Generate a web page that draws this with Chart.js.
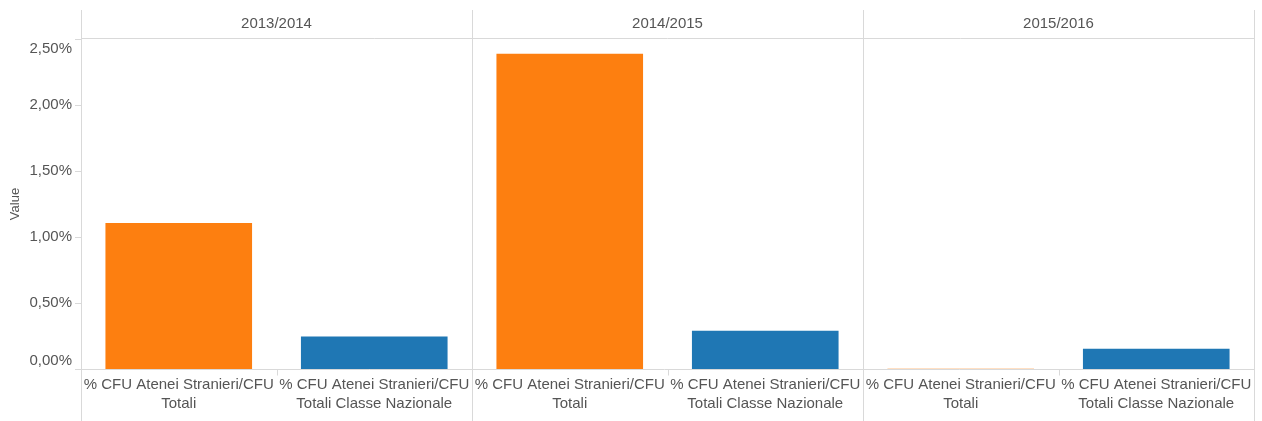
<!DOCTYPE html>
<html>
<head>
<meta charset="utf-8">
<script src="https://cdn.jsdelivr.net/npm/chart.js@4.4.0/dist/chart.umd.min.js"></script>
<style>
  html, body { margin: 0; padding: 0; background: #fff; }
  #wrap { width: 1262px; height: 421px; }
</style>
</head>
<body>
<div id="wrap"><canvas id="cfuChart"></canvas></div>
<script>
// --- dati ---
const anni = ['2013/2014', '2014/2015', '2015/2016'];
const misure = [
    ['% CFU Atenei Stranieri/CFU', 'Totali'],
    ['% CFU Atenei Stranieri/CFU', 'Totali Classe Nazionale']
];
const cfuTotali = [1.106, 2.389, 0.002];
const cfuClasseNazionale = [0.247, 0.290, 0.154];
const yTicks = [0, 0.5, 1, 1.5, 2, 2.5];
const coloriMisure = ['#fd7f10', '#1f77b4'];

const FONT = '"Liberation Sans", Arial, sans-serif';
const GRIGIO = '#d9d9d9';
const TESTO = '#555';

// una categoria per ogni coppia anno/misura
const etichette = [], valori = [], colori = [];
anni.forEach((a, i) => {
    etichette.push(misure[0]); valori.push(cfuTotali[i]); colori.push(coloriMisure[0]);
    etichette.push(misure[1]); valori.push(cfuClasseNazionale[i]); colori.push(coloriMisure[1]);
});

const fmt = v => v.toFixed(2).replace('.', ',') + '%';

// cornice dei pannelli, intestazioni e etichette asse Y (stile Tableau)
const pannelli = {
    id: 'pannelli',
    beforeDatasetsDraw(chart) {
        const { ctx, chartArea: ca, scales: { x, y } } = chart;
        const H = chart.height;
        const line = (x1, y1, x2, y2) => { ctx.beginPath(); ctx.moveTo(x1, y1); ctx.lineTo(x2, y2); ctx.stroke(); };
        ctx.save();
        ctx.strokeStyle = GRIGIO;
        ctx.lineWidth = 1;

        // bordi verticali dei pannelli
        for (let p = 0; p <= anni.length; p++) {
            let px;
            if (p === 0) px = ca.left;
            else if (p === anni.length) px = ca.right;
            else px = (x.getPixelForValue(2 * p - 1) + x.getPixelForValue(2 * p)) / 2;
            px = Math.round(px) + 0.5;
            line(px, 10, px, H);
        }
        // linea sotto le intestazioni
        line(ca.left, ca.top - 0.5, ca.right, ca.top - 0.5);

        // asse a zero + tacche Y
        const y0 = Math.round(y.getPixelForValue(0)) + 0.5;
        line(ca.left - 6, y0, ca.right, y0);
        yTicks.forEach(v => {
            const py = Math.round(y.getPixelForValue(v)) + 0.5;
            line(ca.left - 6, py, ca.left, py);
        });

        // separatori tra le misure
        anni.forEach((a, i) => {
            const mx = Math.round((x.getPixelForValue(2 * i) + x.getPixelForValue(2 * i + 1)) / 2) + 0.5;
            line(mx, y0, mx, y0 + 6);
        });

        // intestazioni anni
        ctx.fillStyle = TESTO;
        ctx.font = '15px ' + FONT;
        ctx.textAlign = 'center';
        ctx.textBaseline = 'middle';
        anni.forEach((a, i) => {
            const cx = (x.getPixelForValue(2 * i) + x.getPixelForValue(2 * i + 1)) / 2;
            ctx.fillText(a, cx, 24);
        });

        // etichette asse Y (le estreme restano dentro l'area)
        ctx.textAlign = 'right';
        yTicks.forEach(v => {
            let py = y.getPixelForValue(v);
            py = Math.min(Math.max(py, ca.top + 10), ca.bottom - 8);
            ctx.fillText(fmt(v), ca.left - 9, py);
        });
        ctx.restore();
    }
};

new Chart(document.getElementById('cfuChart'), {
    type: 'bar',
    data: {
        labels: etichette,
        datasets: [{ data: valori, backgroundColor: colori, borderWidth: 0, barPercentage: 0.75, categoryPercentage: 1 }]
    },
    options: {
        responsive: true, maintainAspectRatio: false, animation: false,
        layout: { padding: { top: 39, right: 8, left: 0, bottom: 0 } },
        plugins: { legend: { display: false }, tooltip: { enabled: false } },
        scales: {
            x: {
                grid: { display: false }, border: { display: false },
                ticks: { autoSkip: false, maxRotation: 0, minRotation: 0, padding: -2, color: TESTO, font: { family: FONT, size: 15, lineHeight: 1.27 } },
                afterFit: s => { s.height = 52; }
            },
            y: {
                min: 0, max: 2.5,
                grid: { display: false }, border: { display: false },
                ticks: { display: false, stepSize: 0.5 },
                title: { display: true, text: 'Value', color: TESTO, font: { family: FONT, size: 13 }, padding: { top: 8, bottom: 0 } },
                afterFit: s => { s.width = 81; }
            }
        }
    },
    plugins: [pannelli]
});
</script>
</body>
</html>
